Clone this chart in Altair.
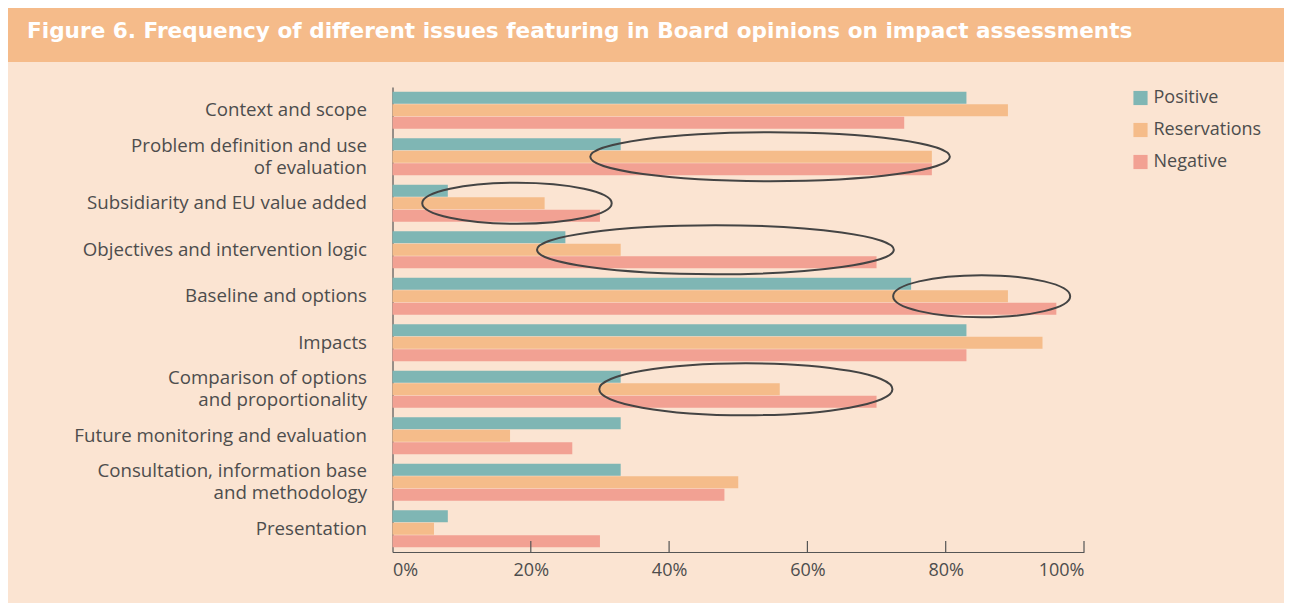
import altair as alt
import pandas as pd

# ---------------- data ----------------
categories = [
    "Context and scope",
    "Problem definition and use|of evaluation",
    "Subsidiarity and EU value added",
    "Objectives and intervention logic",
    "Baseline and options",
    "Impacts",
    "Comparison of options|and proportionality",
    "Future monitoring and evaluation",
    "Consultation, information base|and methodology",
    "Presentation",
]
series = ["Positive", "Reservations", "Negative"]
positive = [83, 33, 8, 25, 75, 83, 33, 33, 33, 8]
reservations = [89, 78, 22, 33, 89, 94, 56, 17, 50, 6]
negative = [74, 78, 30, 70, 96, 83, 70, 26, 48, 30]
x_ticks = [0, 20, 40, 60, 80, 100]

# highlighted groups (annotation ellipses): category, centre (%), half-width (%), height (px)
ell_cats = [categories[1], categories[2], categories[3], categories[4], categories[6]]
ell_center = [54.6, 18.0, 46.7, 85.2, 51.1]
ell_halfw = [26.0, 13.7, 25.8, 12.8, 21.2]
ell_height = [49, 41, 49, 42, 52]

title_text = "Figure 6. Frequency of different issues featuring in Board opinions on impact assessments"

colors = ["#7FB6B4", "#F5BC8A", "#F2A193"]
BG = "#FBE4D2"
BAND = "#F5BB8A"
TXT = "#4D4D4D"
FONT = "Open Sans"

W = 691.5
H = 465

# ---------------- tables ----------------
rows = []
for s, vals in zip(series, [positive, reservations, negative]):
    for c, v in zip(categories, vals):
        rows.append({"category": c, "series": s, "value": v})
df = pd.DataFrame(rows)

c = 0.5523
ell_rows = []
for cat, cx, hw, h in zip(ell_cats, ell_center, ell_halfw, ell_height):
    wpx = 2 * hw / 100 * W
    k = h / wpx
    path = (f"M1,0 C1,{c*k:.4f} {c},{k:.4f} 0,{k:.4f} "
            f"C{-c},{k:.4f} -1,{c*k:.4f} -1,0 "
            f"C-1,{-c*k:.4f} {-c},{-k:.4f} 0,{-k:.4f} "
            f"C{c},{-k:.4f} 1,{-c*k:.4f} 1,0 Z")
    ell_rows.append({"category": cat, "cx": cx, "shape": path, "size": wpx * wpx})
ell_df = pd.DataFrame(ell_rows)

tick_df = pd.DataFrame({"t": x_ticks[1:]})
title_df = pd.DataFrame({"title": [title_text]})

y_enc = alt.Y(
    "category:N",
    sort=categories,
    scale=alt.Scale(paddingInner=0.2, paddingOuter=0.1),
    axis=alt.Axis(
        title=None,
        labelExpr="split(datum.label, '|')",
        labelFontSize=18.7,
        labelFont=FONT,
        labelColor=TXT,
        labelPadding=26,
        labelLineHeight=22,
        labelLimit=400,
        labelOffset={
            "condition": {"test": "indexof(datum.label, '|') >= 0", "value": -11},
            "value": 0,
        },
        ticks=False,
        domainColor="#555555",
        domainWidth=1.2,
    ),
)

bars = alt.Chart(df).mark_bar().encode(
    x=alt.X(
        "value:Q",
        scale=alt.Scale(domain=[0, 100], nice=False),
        axis=alt.Axis(
            title=None,
            values=x_ticks,
            labelExpr="datum.value + '%'",
            labelFlush=True,
            labelFontSize=18,
            labelFont=FONT,
            labelColor=TXT,
            labelPadding=9,
            ticks=False,
            grid=False,
            domainColor="#555555",
            domainWidth=1.2,
        ),
    ),
    y=y_enc,
    yOffset=alt.YOffset("series:N", sort=series, scale=alt.Scale(paddingInner=0.03)),
    color=alt.Color(
        "series:N",
        sort=series,
        scale=alt.Scale(domain=series, range=colors),
        legend=alt.Legend(
            orient="none",
            legendX=739,
            legendY=2,
            title=None,
            symbolType="square",
            symbolSize=200,
            symbolStrokeWidth=0,
            labelFontSize=18,
            labelFont=FONT,
            labelColor=TXT,
            labelOffset=4,
            rowPadding=14,
            padding=0,
        ),
    ),
)

ticks = alt.Chart(tick_df).mark_rule(color="#555555", strokeWidth=1.2).encode(
    x=alt.X("t:Q"),
    y=alt.value(H - 11),
    y2=alt.value(H),
)

ellipses = alt.Chart(ell_df).mark_point(
    filled=False, stroke="#444444", strokeWidth=2, opacity=1
).encode(
    x=alt.X("cx:Q"),
    y=alt.Y("category:N", sort=categories),
    shape=alt.Shape("shape:N", scale=None, legend=None),
    size=alt.Size("size:Q", scale=None, legend=None),
)

band = alt.Chart(title_df).mark_rect(color=BAND).encode(
    x=alt.value(-384.5), x2=alt.value(891.5), y=alt.value(-79), y2=alt.value(-25)
)
title = alt.Chart(title_df).mark_text(
    align="left", baseline="middle", color="white", font="DejaVu Sans",
    fontSize=21.6, fontWeight="bold",
).encode(text="title:N", x=alt.value(-365.5), y=alt.value(-55))

chart = alt.layer(band, title, bars, ticks, ellipses).properties(
    width=W,
    height=H,
    autosize="none",
    padding={"left": 384.5, "top": 79, "right": 200, "bottom": 51},
    background=BG,
).configure_view(stroke=None)

chart.save("out.html", embed_options={"renderer": "svg", "actions": False})
